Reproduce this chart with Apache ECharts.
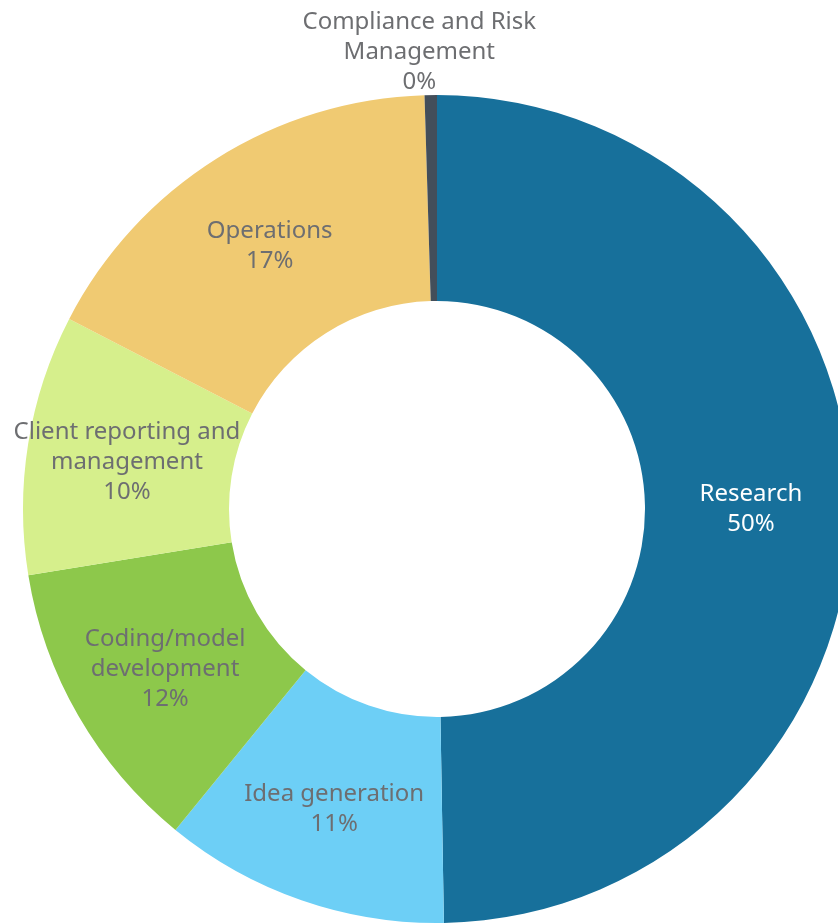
<!DOCTYPE html>
<html>
<head>
<meta charset="utf-8">
<title>Time allocation</title>
<script src="https://cdn.jsdelivr.net/npm/echarts@6/dist/echarts.min.js"></script>
<style>
  html, body { margin: 0; padding: 0; background: #ffffff; }
  #chart { width: 838px; height: 924px; }
</style>
</head>
<body>
<div id="chart"></div>
<script>
// Share of time by activity, in percent, clockwise from the top
const categories = [
  'Research',
  'Idea generation',
  'Coding/model\ndevelopment',
  'Client reporting and\nmanagement',
  'Operations',
  'Compliance and Risk\nManagement'
];
const shares = [49.74, 11.15, 11.56, 10.15, 16.93, 0.48];
const sliceColors = ['#17709b', '#6dcff6', '#8dc84b', '#d6ef8c', '#f0ca72', '#434e5a'];
const labelColors = ['#ffffff', '#6d6e71', '#6d6e71', '#6d6e71', '#6d6e71', '#6d6e71'];

const chart = echarts.init(document.getElementById('chart'), null, { renderer: 'canvas' });

const data = categories.map((name, i) => ({
  name: name,
  value: shares[i],
  itemStyle: { color: sliceColors[i] },
  label: { color: labelColors[i] }
}));

chart.setOption({
  animation: false,
  series: [{
    type: 'pie',
    center: [437, 509],
    radius: [208, 414],
    startAngle: 90,
    clockwise: true,
    percentPrecision: 0,
    avoidLabelOverlap: false,
    label: {
      show: true,
      position: 'inside',
      formatter: '{b}\n{d}%',
      fontFamily: 'Noto Sans',
      fontSize: 24,
      lineHeight: 30,
      align: 'center'
    },
    labelLine: { show: false },
    // the thin last slice carries its caption above the ring
    labelLayout: function (params) {
      if (params.dataIndex === categories.length - 1) {
        return { dx: -13, dy: -143 };
      }
      return { dy: 3 };
    },
    emphasis: { disabled: true },
    data: data
  }]
});
</script>
</body>
</html>
